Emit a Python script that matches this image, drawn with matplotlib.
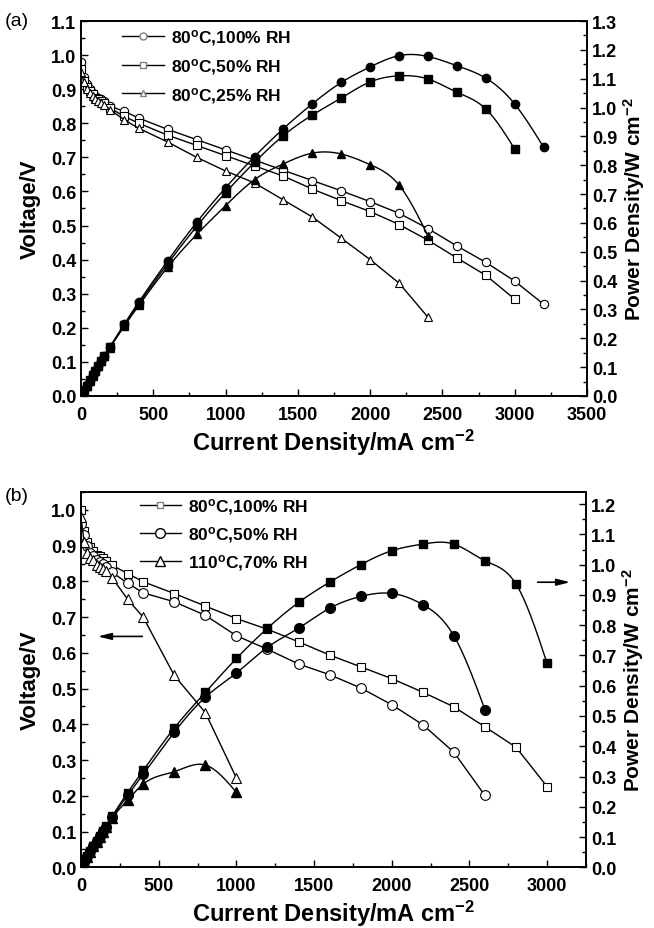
import numpy as np
import matplotlib
matplotlib.use('Agg')
import matplotlib.pyplot as plt
from matplotlib.lines import Line2D
from matplotlib.ticker import MultipleLocator

plt.rcParams['font.family'] = ['Liberation Sans', 'DejaVu Sans']
plt.rcParams['font.weight'] = 'bold'
plt.rcParams['axes.labelweight'] = 'bold'
plt.rcParams['mathtext.fontset'] = 'custom'
plt.rcParams['mathtext.rm'] = 'Liberation Sans:bold'
plt.rcParams['mathtext.default'] = 'rm'

# ---- panel (a) data ----
cur_a1 = [0, 20, 40, 60, 80, 100, 120, 140, 160, 200, 300, 400, 600, 800, 1000, 1200,
          1400, 1600, 1800, 2000, 2200, 2400, 2600, 2800, 3000, 3200]
volt_a1 = [0.98, 0.935, 0.915, 0.90, 0.89, 0.88, 0.875, 0.87, 0.865, 0.85, 0.835, 0.815,
           0.782, 0.752, 0.722, 0.692, 0.662, 0.632, 0.602, 0.570, 0.536, 0.491, 0.44,
           0.392, 0.337, 0.269]
pow_a1 = [0, 0.019, 0.037, 0.054, 0.071, 0.088, 0.105, 0.122, 0.138, 0.17, 0.25, 0.326,
          0.469, 0.602, 0.722, 0.83, 0.927, 1.013, 1.087, 1.141, 1.18, 1.177, 1.145,
          1.102, 1.012, 0.862]

cur_a2 = [0, 20, 40, 60, 80, 100, 120, 140, 160, 200, 300, 400, 600, 800, 1000, 1200,
          1400, 1600, 1800, 2000, 2200, 2400, 2600, 2800, 3000]
volt_a2 = [0.96, 0.925, 0.905, 0.895, 0.885, 0.875, 0.87, 0.865, 0.86, 0.845, 0.82, 0.80,
           0.765, 0.735, 0.705, 0.675, 0.645, 0.607, 0.573, 0.541, 0.503, 0.457, 0.405,
           0.354, 0.284]
pow_a2 = [0, 0.0185, 0.036, 0.054, 0.071, 0.0875, 0.104, 0.121, 0.138, 0.169, 0.246, 0.32,
          0.459, 0.588, 0.705, 0.81, 0.903, 0.974, 1.033, 1.089, 1.11, 1.099, 1.053,
          0.995, 0.856]

cur_a3 = [0, 20, 40, 60, 80, 100, 120, 140, 160, 200, 300, 400, 600, 800, 1000, 1200,
          1400, 1600, 1800, 2000, 2200, 2400]
volt_a3 = [0.95, 0.92, 0.90, 0.89, 0.88, 0.87, 0.865, 0.86, 0.855, 0.84, 0.81, 0.785,
           0.745, 0.70, 0.66, 0.625, 0.575, 0.525, 0.463, 0.40, 0.331, 0.231]
pow_a3 = [0, 0.018, 0.036, 0.053, 0.07, 0.087, 0.104, 0.12, 0.137, 0.168, 0.243, 0.314,
          0.447, 0.56, 0.66, 0.75, 0.805, 0.842, 0.839, 0.802, 0.731, 0.555]

labels_a = ['80$^{o}$C,100% RH', '80$^{o}$C,50% RH', '80$^{o}$C,25% RH']

# ---- panel (b) data ----
cur_b1 = [0, 20, 40, 60, 80, 100, 120, 140, 160, 200, 300, 400, 600, 800, 1000, 1200,
          1400, 1600, 1800, 2000, 2200, 2400, 2600, 2800, 3000]
volt_b1 = [1.00, 0.94, 0.91, 0.895, 0.885, 0.875, 0.87, 0.865, 0.858, 0.845, 0.822, 0.799,
           0.766, 0.731, 0.696, 0.666, 0.631, 0.594, 0.561, 0.528, 0.49, 0.449, 0.393,
           0.336, 0.226]
pow_b1 = [0, 0.019, 0.036, 0.054, 0.071, 0.0875, 0.104, 0.121, 0.137, 0.169, 0.247, 0.32,
          0.46, 0.578, 0.69, 0.79, 0.875, 0.942, 1.0, 1.046, 1.068, 1.068, 1.013, 0.936,
          0.674]

cur_b2 = [0, 20, 40, 60, 80, 100, 120, 140, 160, 200, 300, 400, 600, 800, 1000, 1200,
          1400, 1600, 1800, 2000, 2200, 2400, 2600]
volt_b2 = [0.96, 0.93, 0.90, 0.88, 0.87, 0.86, 0.855, 0.85, 0.84, 0.825, 0.795, 0.768,
           0.743, 0.705, 0.648, 0.61, 0.569, 0.539, 0.502, 0.455, 0.399, 0.322, 0.201]
pow_b2 = [0, 0.0186, 0.036, 0.053, 0.07, 0.086, 0.103, 0.119, 0.134, 0.165, 0.238, 0.307,
          0.446, 0.562, 0.642, 0.727, 0.79, 0.856, 0.895, 0.905, 0.868, 0.765, 0.521]

cur_b3 = [0, 20, 40, 60, 80, 100, 120, 140, 160, 200, 300, 400, 600, 800, 1000]
volt_b3 = [0.98, 0.91, 0.88, 0.865, 0.86, 0.845, 0.84, 0.835, 0.83, 0.81, 0.75, 0.70,
           0.537, 0.433, 0.25]
pow_b3 = [0, 0.018, 0.035, 0.052, 0.069, 0.085, 0.1, 0.117, 0.133, 0.163, 0.222, 0.275,
          0.316, 0.338, 0.248]

labels_b = ['80$^{o}$C,100% RH', '80$^{o}$C,50% RH', '110$^{o}$C,70% RH']


def spline(x, y, n=400):
    # natural cubic spline, used only to draw the smooth power curves
    x = np.asarray(x, float)
    y = np.asarray(y, float)
    h = np.diff(x)
    m = len(x)
    A = np.zeros((m, m))
    b = np.zeros(m)
    A[0, 0] = A[-1, -1] = 1
    for i in range(1, m - 1):
        A[i, i - 1] = h[i - 1]
        A[i, i] = 2 * (h[i - 1] + h[i])
        A[i, i + 1] = h[i]
        b[i] = 6 * ((y[i + 1] - y[i]) / h[i] - (y[i] - y[i - 1]) / h[i - 1])
    M = np.linalg.solve(A, b)
    xs = np.linspace(x[0], x[-1], n)
    k = np.clip(np.searchsorted(x, xs) - 1, 0, m - 2)
    hh = x[k + 1] - x[k]
    t0 = x[k + 1] - xs
    t1 = xs - x[k]
    ys = (M[k] * t0 ** 3 + M[k + 1] * t1 ** 3) / (6 * hh) \
        + (y[k] / hh - M[k] * hh / 6) * t0 + (y[k + 1] / hh - M[k + 1] * hh / 6) * t1
    return xs, ys


def style(ax, ax2, xmax, ymax, y2max):
    ax.set_xlim(0, xmax)
    ax.set_ylim(0, ymax)
    ax2.set_ylim(0, y2max)
    ax.xaxis.set_major_locator(MultipleLocator(500))
    ax.xaxis.set_minor_locator(MultipleLocator(250))
    for a in (ax, ax2):
        a.yaxis.set_major_locator(MultipleLocator(0.1))
        a.yaxis.set_minor_locator(MultipleLocator(0.05))
        a.yaxis.set_major_formatter(plt.FormatStrFormatter('%.1f'))
        a.tick_params(which='both', direction='in', labelsize=13, width=1)
        a.tick_params(which='major', length=5)
        a.tick_params(which='minor', length=3)
        for s in a.spines.values():
            s.set_linewidth(1.2)
    ax.tick_params(axis='x', pad=7)
    ax.tick_params(which='both', top=False, right=False)
    ax2.tick_params(which='both', top=False, left=False)
    ax.set_ylabel('Voltage/V', fontsize=16, labelpad=7)
    ax2.set_ylabel('Power Density/W cm$^{-2}$', fontsize=15, labelpad=3)
    ax.set_xlabel('Current Density/mA cm$^{-2}$', fontsize=17, labelpad=3)


def draw(ax, ax2, cur, volt, pw, marker, ms):
    ax.plot(cur, volt, color='k', lw=1, marker=marker, mfc='white', mec='k', ms=ms, mew=0.8)
    xs, ys = spline(cur, pw)
    ax2.plot(xs, ys, color='k', lw=1)
    ax2.plot(cur, pw, ls='none', marker=marker, color='k', ms=ms)


fig = plt.figure(figsize=(6.54, 9.29), dpi=100)

# panel (a)
axa = fig.add_axes([0.1239, 0.5727, 0.7737, 0.4036])
axa2 = axa.twinx()
draw(axa, axa2, cur_a1, volt_a1, pow_a1, 'o', 6)
draw(axa, axa2, cur_a2, volt_a2, pow_a2, 's', 5.5)
draw(axa, axa2, cur_a3, volt_a3, pow_a3, '^', 6)
style(axa, axa2, 3500, 1.1, 1.3)
hand_a = [Line2D([], [], color='k', lw=1, marker=m, mfc='white', mec='gray', ms=5)
          for m in ('o', 's', '^')]
axa.legend(hand_a, labels_a, loc='upper left', bbox_to_anchor=(0.05, 1.025), frameon=False,
           fontsize=12.5, handlelength=2.4, handletextpad=0.4, labelspacing=0.5)
fig.text(0.008, 1 - 22 / 929, '(a)', fontsize=14, fontweight='normal', va='center')

# panel (b)
axb = fig.add_axes([0.1239, 0.0653, 0.772, 0.404])
axb2 = axb.twinx()
draw(axb, axb2, cur_b1, volt_b1, pow_b1, 's', 5.5)
draw(axb, axb2, cur_b2, volt_b2, pow_b2, 'o', 7)
draw(axb, axb2, cur_b3, volt_b3, pow_b3, '^', 7.5)
style(axb, axb2, 3250, 1.05, 1.24)
hand_b = [Line2D([], [], color='k', lw=1, marker='s', mfc='white', mec='gray', ms=5),
          Line2D([], [], color='k', lw=1, marker='o', mfc='white', mec='k', ms=7),
          Line2D([], [], color='k', lw=1, marker='^', mfc='white', mec='k', ms=7.5)]
axb.legend(hand_b, labels_b, loc='upper left', bbox_to_anchor=(0.085, 1.03), frameon=False,
           fontsize=12.5, handlelength=2.4, handletextpad=0.4, labelspacing=0.45)
axb.annotate('', xy=(90, 0.646), xytext=(412, 0.646),
             arrowprops=dict(arrowstyle='-|>,head_length=0.8,head_width=0.2', color='k', lw=1.2))
axb2.annotate('', xy=(3167, 0.942), xytext=(2921, 0.942),
              arrowprops=dict(arrowstyle='-|>,head_length=0.8,head_width=0.2', color='k', lw=1.2))
fig.text(0.008, 1 - 497 / 929, '(b)', fontsize=14, fontweight='normal', va='center')

fig.savefig('out.png', dpi=100)
